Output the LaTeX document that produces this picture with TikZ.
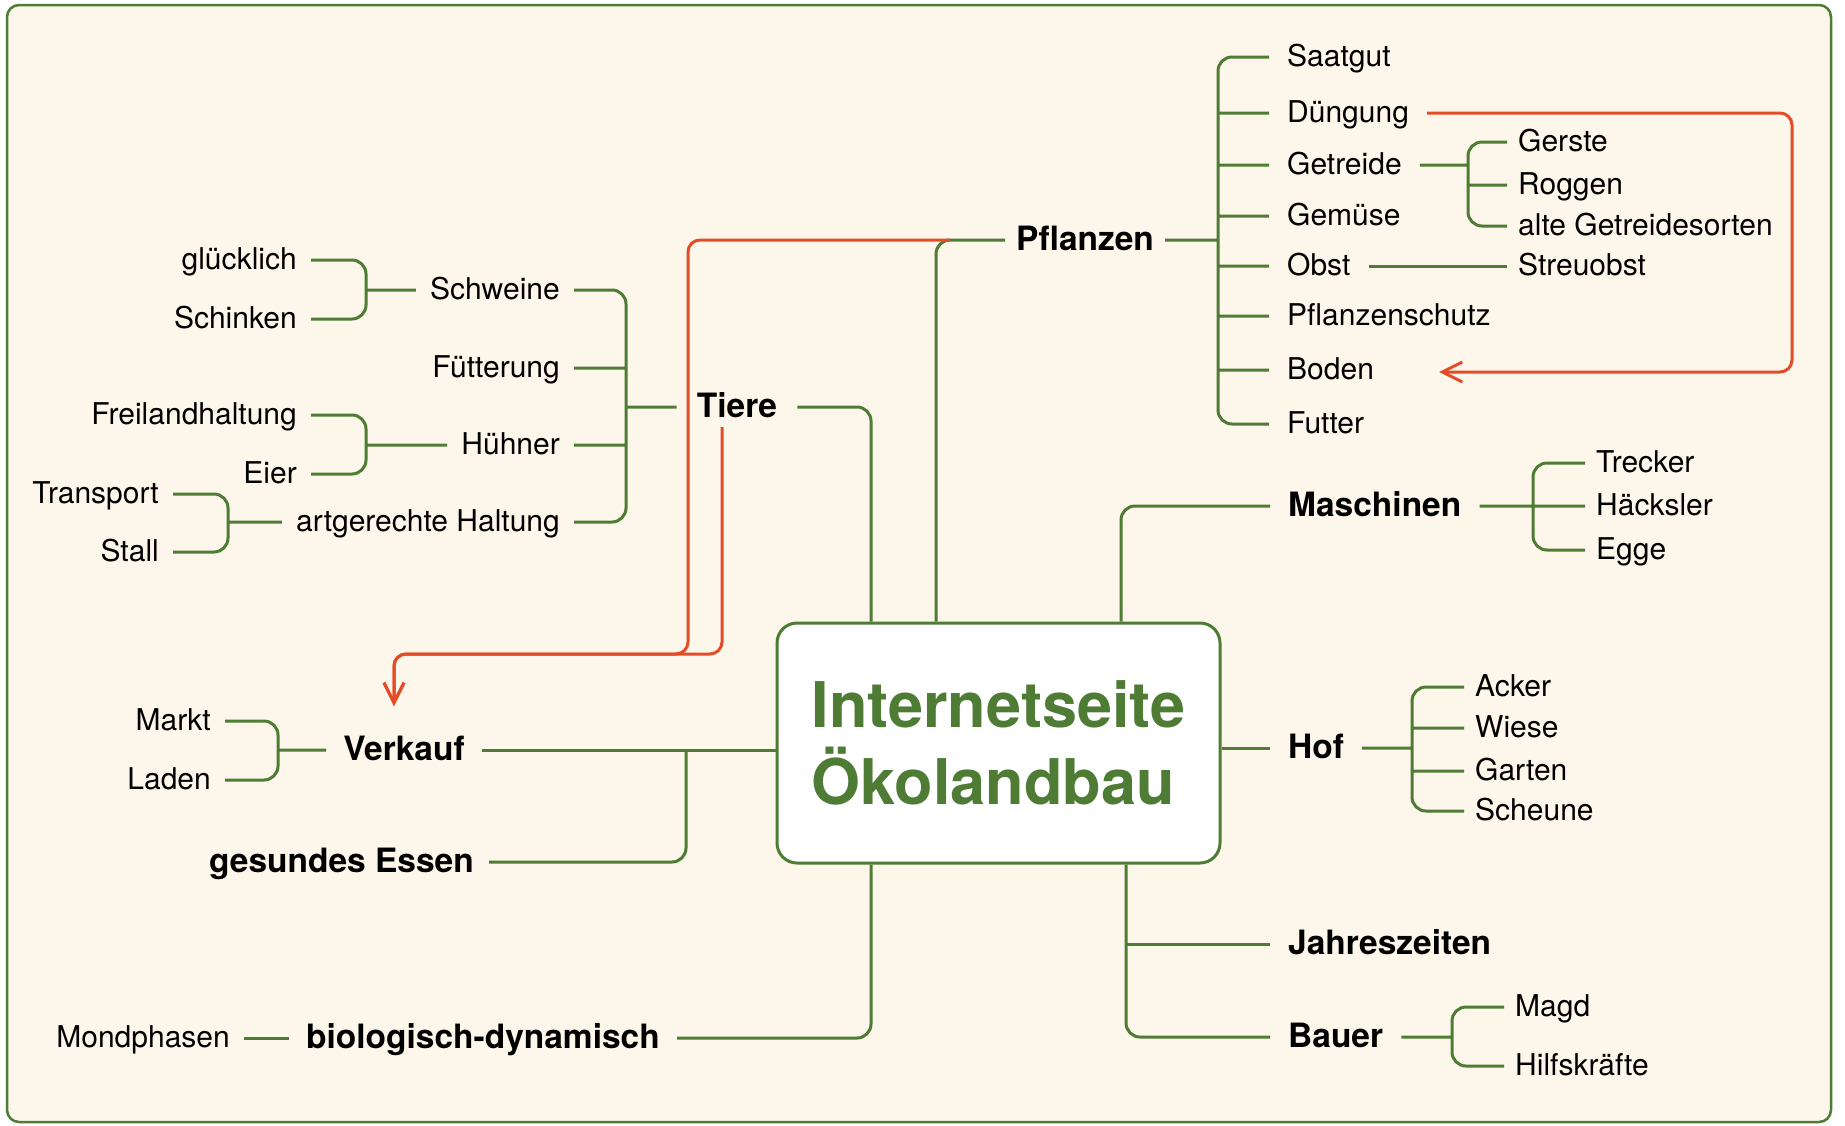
\documentclass[tikz,border=0pt]{standalone}
\usepackage{fontspec}
\setmainfont{TeX Gyre Heros}
\usetikzlibrary{arrows.meta}
\definecolor{okgreen}{RGB}{78,124,52}
\definecolor{okcream}{RGB}{253,246,234}
\definecolor{okred}{RGB}{228,76,40}
\tikzset{
  leaf/.style={font=\fontsize{30}{36}\selectfont, inner xsep=18pt, inner ysep=0pt, text height=18.5pt, text depth=0pt},
  sub/.style={leaf, inner xsep=11pt},
  lleaf/.style={leaf, anchor=east, inner xsep=14pt},
  topic/.style={leaf, font=\bfseries\fontsize{33.5}{40}\selectfont, text height=20.5pt},
  link/.style={draw=okgreen, line width=3pt, rounded corners=14pt},
  hint/.style={draw=okred, line width=3pt, rounded corners=12pt, -{Straight Barb[length=20pt,width=20pt]}}
}
\begin{document}
\begin{tikzpicture}[x=1pt,y=-1pt]
\useasboundingbox (0,0) rectangle (1845,1125);
\draw[okgreen,fill=okcream,line width=2.5pt,rounded corners=12pt] (7,5) rectangle (1831,1122);

\node[draw=okgreen,line width=3pt,fill=white,rounded corners=20pt,minimum width=443pt,minimum height=240pt,align=left,text=okgreen,font=\bfseries\fontsize{63}{77}\selectfont] (ctr) at (998.5,743) {Internetseite\\Ökolandbau};

\node[topic,anchor=west,inner xsep=11pt] (pfl) at (1005,240) {Pflanzen};
\node[leaf,anchor=west] (saat) at (1269,57) {Saatgut};
\node[leaf,anchor=west] (dueng) at (1269,113) {Düngung};
\node[leaf,anchor=west] (getr) at (1269,165) {Getreide};
\node[leaf,anchor=west] (gemue) at (1269,216) {Gemüse};
\node[leaf,anchor=west] (obst) at (1269,266) {Obst};
\node[leaf,anchor=west] (schutz) at (1269,316) {Pflanzenschutz};
\node[leaf,anchor=west] (boden) at (1269,370) {Boden};
\node[leaf,anchor=west] (futter) at (1269,424) {Futter};
\node[sub,anchor=west] (gerste) at (1507,142) {Gerste};
\node[sub,anchor=west] (roggen) at (1507,185) {Roggen};
\node[sub,anchor=west] (alte) at (1507,226) {alte Getreidesorten};
\node[sub,anchor=west] (streu) at (1507,266) {Streuobst};
\node[topic,anchor=west] (masch) at (1270,506) {Maschinen};
\node[sub,anchor=west] (trecker) at (1585,463) {Trecker};
\node[sub,anchor=west] (haeck) at (1585,506) {Häcksler};
\node[sub,anchor=west] (egge) at (1585,550) {Egge};
\node[topic,anchor=west] (hof) at (1270,748) {Hof};
\node[sub,anchor=west] (acker) at (1464,687) {Acker};
\node[sub,anchor=west] (wiese) at (1464,728) {Wiese};
\node[sub,anchor=west] (garten) at (1464,771) {Garten};
\node[sub,anchor=west] (scheune) at (1464,811) {Scheune};
\node[topic,anchor=west] (jahr) at (1270,944) {Jahreszeiten};
\node[topic,anchor=west] (bauer) at (1270,1037) {Bauer};
\node[sub,anchor=west] (magd) at (1504,1007) {Magd};
\node[sub,anchor=west] (hilfs) at (1504,1066) {Hilfskräfte};

\node[topic,inner xsep=20pt] (tiere) at (737,407) {Tiere};
\node[lleaf] (schweine) at (574,290) {Schweine};
\node[lleaf] (fuetter) at (574,368) {Fütterung};
\node[lleaf] (huehner) at (574,445) {Hühner};
\node[lleaf] (artger) at (574,522) {artgerechte Haltung};
\node[lleaf] (glueck) at (311,260) {glücklich};
\node[lleaf] (schinken) at (311,319) {Schinken};
\node[lleaf] (frei) at (311,415) {Freilandhaltung};
\node[lleaf] (eier) at (311,474) {Eier};
\node[lleaf] (transport) at (173,494) {Transport};
\node[lleaf] (stall) at (173,552) {Stall};
\node[topic,inner xsep=17pt] (verkauf) at (404,750) {Verkauf};
\node[lleaf] (markt) at (225,721) {Markt};
\node[lleaf] (laden) at (225,780) {Laden};
\node[topic,anchor=east,inner xsep=15pt] (gesund) at (489,862) {gesundes Essen};
\node[topic,anchor=east,inner xsep=17pt] (bio) at (677,1038) {biologisch-dynamisch};
\node[lleaf] (mond) at (244,1038) {Mondphasen};

\coordinate (pflbar) at (1218,0);
\coordinate (getbar) at (1468,0);
\coordinate (masbar) at (1533,0);
\coordinate (hofbar) at (1412,0);
\coordinate (baubar) at (1452,0);
\coordinate (tiebar) at (626,0);
\coordinate (subbar) at (366,0);
\coordinate (artbar) at (228,0);
\coordinate (vkbar) at (278,0);
\coordinate (essbar) at (686,0);
\coordinate (pfltrunk) at (936,0);
\coordinate (tietrunk) at (871,0);
\coordinate (mastrunk) at (1121,0);
\coordinate (jahtrunk) at (1126,0);
\coordinate (pflred) at (950,240);
\coordinate (tiered) at (722,427);
\coordinate (redbend) at (688,654);
\coordinate (redjoin) at (722,654);
\coordinate (vkin) at (394,706);
\coordinate (rturn) at (1792,372);
\coordinate (bodenin) at (1439,372);

\draw[link] (pfl.west) -| (pfltrunk |- ctr.north);
\draw[link] (tiere.east) -| (tietrunk |- ctr.north);
\draw[link] (masch.west) -| (mastrunk |- ctr.north);
\draw[link] (hof.west -| ctr.east) -- (hof.west);
\draw[link] (verkauf.east) -- (verkauf.east -| ctr.west);
\draw[link] (gesund.east) -| (essbar |- verkauf.east);
\draw[link] (bio.east) -| (tietrunk |- ctr.south);
\draw[link] (jahtrunk |- ctr.south) |- (bauer.west);
\draw[link] (jahtrunk |- jahr.west) -- (jahr.west);

\draw[link] (pfl.east) -- (pflbar |- pfl.east) (saat.west) -- (pflbar |- saat.west) -- (pflbar |- futter.west) -- (futter.west)
  (pflbar |- dueng.west) -- (dueng.west) (pflbar |- getr.west) -- (getr.west) (pflbar |- gemue.west) -- (gemue.west)
  (pflbar |- obst.west) -- (obst.west) (pflbar |- schutz.west) -- (schutz.west) (pflbar |- boden.west) -- (boden.west);
\draw[link] (getr.east) -- (getbar |- getr.east) (gerste.west) -- (getbar |- gerste.west) -- (getbar |- alte.west) -- (alte.west)
  (getbar |- roggen.west) -- (roggen.west);
\draw[link] (obst.east) -- (streu.west);
\draw[link] (masch.east) -- (masbar |- masch.east) (trecker.west) -- (masbar |- trecker.west) -- (masbar |- egge.west) -- (egge.west)
  (masbar |- haeck.west) -- (haeck.west);
\draw[link] (hof.east) -- (hofbar |- hof.east) (acker.west) -- (hofbar |- acker.west) -- (hofbar |- scheune.west) -- (scheune.west)
  (hofbar |- wiese.west) -- (wiese.west) (hofbar |- garten.west) -- (garten.west);
\draw[link] (bauer.east) -- (baubar |- bauer.east) (magd.west) -- (baubar |- magd.west) -- (baubar |- hilfs.west) -- (hilfs.west);

\draw[link] (tiere.west) -- (tiebar |- tiere.west) (schweine.east) -- (tiebar |- schweine.east) -- (tiebar |- artger.east) -- (artger.east)
  (tiebar |- fuetter.east) -- (fuetter.east) (tiebar |- huehner.east) -- (huehner.east);
\draw[link] (schweine.west) -- (subbar |- schweine.west) (glueck.east) -- (subbar |- glueck.east) -- (subbar |- schinken.east) -- (schinken.east);
\draw[link] (huehner.west) -- (subbar |- huehner.west) (frei.east) -- (subbar |- frei.east) -- (subbar |- eier.east) -- (eier.east);
\draw[link] (artger.west) -- (artbar |- artger.west) (transport.east) -- (artbar |- transport.east) -- (artbar |- stall.east) -- (stall.east);
\draw[link] (verkauf.west) -- (vkbar |- verkauf.west) (markt.east) -- (vkbar |- markt.east) -- (vkbar |- laden.east) -- (laden.east);
\draw[link] (mond.east) -- (bio.west);

\draw[hint] (pflred) -| (redbend) -| (vkin);
\draw[hint] (tiered) -- (redjoin) -| (vkin);
\draw[hint] (dueng.east) -| (rturn) -- (bodenin);
\end{tikzpicture}
\end{document}
